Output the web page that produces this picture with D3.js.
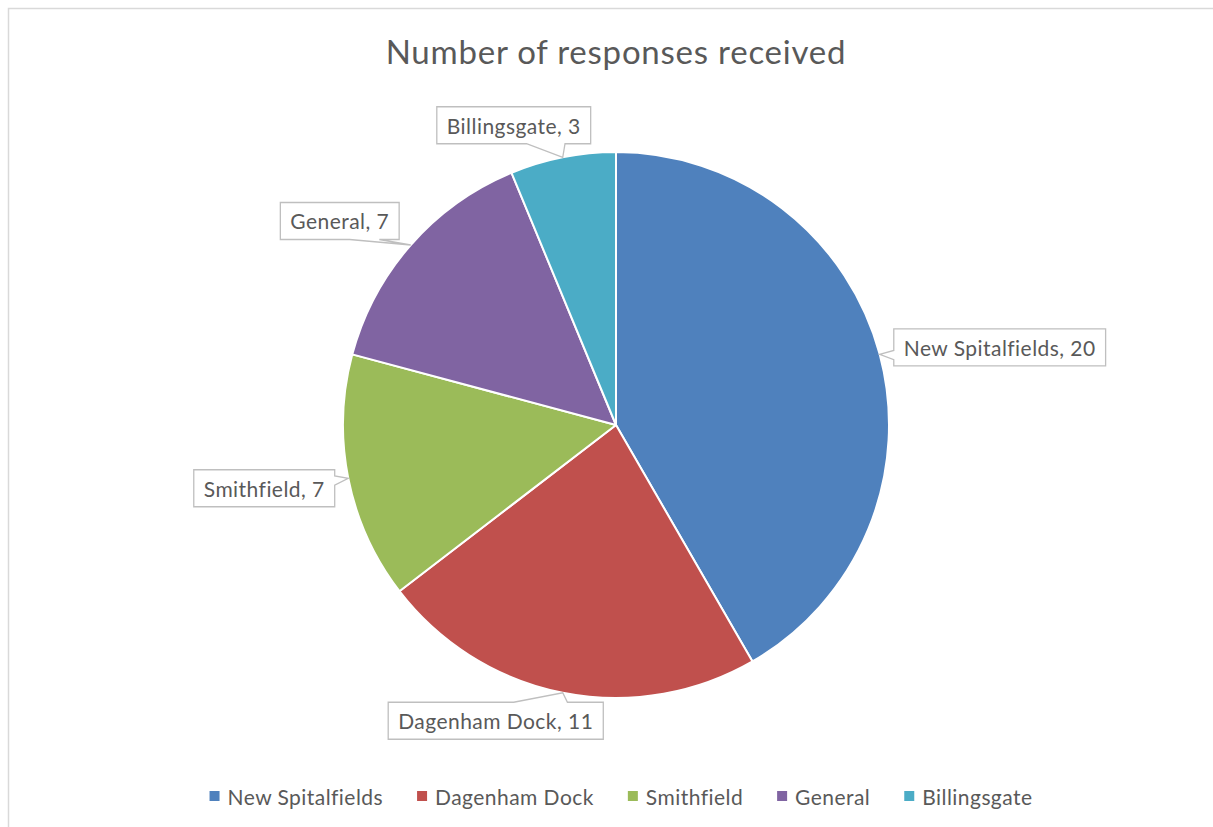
<!DOCTYPE html>
<html>
<head>
<meta charset="utf-8">
<script src="https://cdn.jsdelivr.net/npm/d3@7"></script>
<style>
  html, body { margin: 0; padding: 0; background: #fff; }
  svg { display: block; }
  text { font-family: Lato, "Open Sans", sans-serif; fill: #595959; }
</style>
</head>
<body>
<svg id="chart" width="1213" height="827"></svg>
<script>
// ---- data ----
const categories = ["New Spitalfields", "Dagenham Dock", "Smithfield", "General", "Billingsgate"];
const responses = [20, 11, 7, 7, 3];
const colors = ["#4F81BD", "#C0504D", "#9BBB59", "#8064A2", "#4BACC6"];
const chartTitle = "Number of responses received";
// label box offsets (box centre relative to the slice's edge point)
const labelOffsets = [[120, -7], [-67, 28], [-84, 10], [-71, -24], [-49, -32]];

// ---- layout ----
const W = 1213, H = 827;
const cx = 616, cy = 425, R = 273;
const svg = d3.select("#chart");

// chart border
svg.append("rect").attr("x", 8.5).attr("y", 8.5).attr("width", W).attr("height", H)
  .attr("fill", "#fff").attr("stroke", "#d9d9d9").attr("stroke-width", 1.5);

// title
svg.append("text").attr("x", cx).attr("y", 64).attr("text-anchor", "middle")
  .style("font-size", "33px").style("letter-spacing", "0.77px").text(chartTitle);

const data = categories.map((c, i) => ({ name: c, value: responses[i], color: colors[i], off: labelOffsets[i] }));
const pie = d3.pie().value(d => d.value).sort(null);
const arcs = pie(data);
const arc = d3.arc().innerRadius(0).outerRadius(R);

const g = svg.append("g").attr("transform", `translate(${cx},${cy})`);
g.selectAll("path.slice").data(arcs).join("path").attr("class", "slice")
  .attr("d", arc).attr("fill", d => d.data.color)
  .attr("stroke", "#fff").attr("stroke-width", 2).attr("stroke-linejoin", "round");

// callout labels
const labelFont = 21, ls = 0.45, padX = 10, boxH = 37;
arcs.forEach(a => {
  const mid = (a.startAngle + a.endAngle) / 2;
  const tx = cx + R * Math.sin(mid), ty = cy - R * Math.cos(mid);
  const bcx = tx + a.data.off[0], bcy = ty + a.data.off[1];
  const lbl = `${a.data.name}, ${a.data.value}`;
  const t = svg.append("text").attr("x", bcx).attr("y", bcy).attr("text-anchor", "middle")
    .attr("dominant-baseline", "central").style("font-size", labelFont + "px")
    .style("letter-spacing", ls + "px").text(lbl);
  const tw = t.node().getComputedTextLength();
  const w = tw + 2 * padX, h = boxH;
  const x0 = bcx - w / 2, y0 = bcy - h / 2, x1 = x0 + w, y1 = y0 + h;
  const dxn = (tx - bcx) / w, dyn = (ty - bcy) / h;
  let p;
  if (Math.abs(dyn) >= Math.abs(dxn)) {
    const fa = tx > bcx ? 7 / 12 : 2 / 12, fb = tx > bcx ? 10 / 12 : 5 / 12;
    const xa = x0 + w * fa, xb = x0 + w * fb;
    if (dyn > 0) p = `M${x0},${y0}H${x1}V${y1}H${xb}L${tx},${ty}L${xa},${y1}H${x0}Z`;
    else p = `M${x0},${y0}H${xa}L${tx},${ty}L${xb},${y0}H${x1}V${y1}H${x0}Z`;
  } else {
    const fa = ty > bcy ? 7 / 12 : 2 / 12, fb = ty > bcy ? 10 / 12 : 5 / 12;
    const ya = y0 + h * fa, yb = y0 + h * fb;
    if (dxn > 0) p = `M${x0},${y0}H${x1}V${ya}L${tx},${ty}L${x1},${yb}V${y1}H${x0}Z`;
    else p = `M${x0},${y0}H${x1}V${y1}H${x0}V${yb}L${tx},${ty}L${x0},${ya}Z`;
  }
  svg.insert("path", () => t.node()).attr("d", p).attr("fill", "#fff")
    .attr("stroke", "#bfbfbf").attr("stroke-width", 1.3);
});

// legend
const legFont = 21, sq = 10, sqGap = 8, itemGap = 34, legY = 796;
const leg = svg.append("g");
let x = 0;
data.forEach(d => {
  const it = leg.append("g").attr("transform", `translate(${x},0)`);
  it.append("rect").attr("x", 0).attr("y", legY - sq / 2).attr("width", sq).attr("height", sq).attr("fill", d.color);
  const t = it.append("text").attr("x", sq + sqGap).attr("y", legY).attr("dominant-baseline", "central")
    .style("font-size", legFont + "px").style("letter-spacing", ls + "px").text(d.name);
  x += sq + sqGap + t.node().getComputedTextLength() + itemGap;
});
const legW = x - itemGap;
leg.attr("transform", `translate(${621 - legW / 2},0)`);
</script>
</body>
</html>
